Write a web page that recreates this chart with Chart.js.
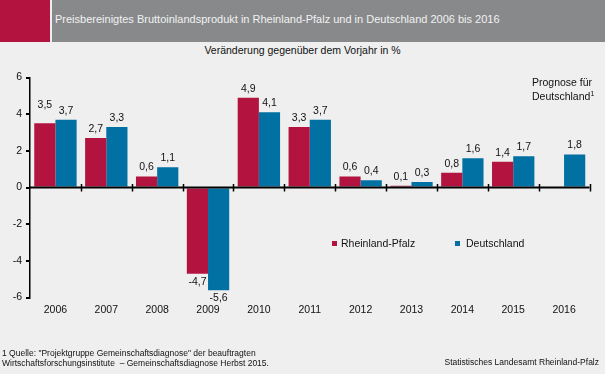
<!DOCTYPE html>
<html>
<head>
<meta charset="utf-8">
<script src="https://cdn.jsdelivr.net/npm/chart.js@4"></script>
<style>
  html, body { margin: 0; padding: 0; background: #EEEFEE; }
  #wrap { position: relative; width: 605px; height: 374px; overflow: hidden; background: #EEEFEE;
          font-family: "Liberation Sans", Arial, sans-serif; color: #111; }
  #c { position: absolute; left: 0; top: 0; }
  .abs { position: absolute; white-space: nowrap; }
  #hdrRed { left: 0; top: 0; width: 50px; height: 42px; background: #B3143F; }
  #hdrGrey { left: 52px; top: 0; width: 553px; height: 42px; background: #88898B; }
  #title { left: 55px; top: 12px; font-size: 11px; color: #F2F2F2; line-height: 14px; }
  #sub { left: 0; width: 605px; top: 44px; text-align: center; font-size: 10.5px; line-height: 13px; }
  #prog { left: 532px; top: 76px; font-size: 10.5px; line-height: 12px; }
  #prog sup { font-size: 7px; vertical-align: 4px; }
  .leg { font-size: 10.5px; line-height: 12px; }
  .sq { position: absolute; width: 5px; height: 5px; }
  #foot { left: 2px; top: 348px; font-size: 8.5px; line-height: 10px; }
  #src { right: 6px; top: 357px; font-size: 8.5px; line-height: 10px; }
</style>
</head>
<body>
<div id="wrap">
  <div class="abs" id="hdrRed"></div>
  <div class="abs" id="hdrGrey"></div>
  <div class="abs" id="title">Preisbereinigtes Bruttoinlandsprodukt in Rheinland-Pfalz und in Deutschland 2006 bis 2016</div>
  <div class="abs" id="sub">Veränderung gegenüber dem Vorjahr in %</div>
  <canvas id="c" width="605" height="374"></canvas>
  <div class="abs" id="prog">Prognose für<br>Deutschland<sup>1</sup></div>
  <div class="sq" style="left:332px;top:241px;background:#B3143F"></div>
  <div class="abs leg" style="left:341px;top:237px">Rheinland-Pfalz</div>
  <div class="sq" style="left:455px;top:241px;background:#0071A2"></div>
  <div class="abs leg" style="left:466px;top:237px">Deutschland</div>
  <div class="abs" id="foot">1 Quelle: "Projektgruppe Gemeinschaftsdiagnose" der beauftragten<br>Wirtschaftsforschungsinstitute &nbsp;– Gemeinschaftsdiagnose Herbst 2015.</div>
  <div class="abs" id="src">Statistisches Landesamt Rheinland-Pfalz</div>
</div>
<script>
const categories = ["2006","2007","2008","2009","2010","2011","2012","2013","2014","2015","2016"];
const rheinlandPfalz = [3.5, 2.7, 0.6, -4.7, 4.9, 3.3, 0.6, 0.1, 0.8, 1.4, null];
const deutschland = [3.7, 3.3, 1.1, -5.6, 4.1, 3.7, 0.4, 0.3, 1.6, 1.7, 1.8];
const yTicks = [-6, -4, -2, 0, 2, 4, 6];

const FONT = '"Liberation Sans", Arial, sans-serif';

const zeroLinePlugin = {
  id: 'zeroLine',
  afterDatasetsDraw(chart) {
    const ctx = chart.ctx, ca = chart.chartArea;
    const y0 = chart.scales.y.getPixelForValue(0);
    const n = categories.length;
    ctx.save();
    ctx.strokeStyle = '#000';
    ctx.lineWidth = 2;
    ctx.beginPath();
    ctx.moveTo(ca.left, y0);
    ctx.lineTo(ca.right, y0);
    ctx.stroke();
    ctx.lineWidth = 1.5;
    for (let i = 1; i <= n; i++) {
      const x = Math.round(ca.left + i * (ca.right - ca.left) / n) + 0.5;
      ctx.beginPath();
      ctx.moveTo(x, y0 - 3.5);
      ctx.lineTo(x, y0 + 4);
      ctx.stroke();
    }
    ctx.restore();
  }
};

const labelPlugin = {
  id: 'barLabels',
  afterDraw(chart, args, opts) {
    const ctx = chart.ctx;
    ctx.save();
    ctx.font = '10.5px ' + FONT;
    ctx.fillStyle = '#111';
    ctx.textAlign = 'center';
    ctx.textBaseline = 'middle';
    chart.data.datasets.forEach((ds, di) => {
      const meta = chart.getDatasetMeta(di);
      meta.data.forEach((bar, i) => {
        const v = ds.data[i];
        if (v === null || v === undefined) return;
        const txt = v.toFixed(1).replace('.', ',');
        const lift = (opts.lift && opts.lift[di + ':' + i]) || 0;
        const y = v >= 0 ? bar.y - 9 - lift : bar.y + 8;
        ctx.fillText(txt, bar.x, y);
      });
    });
    ctx.restore();
  }
};

new Chart(document.getElementById('c'), {
  type: 'bar',
  data: {
    labels: categories,
    datasets: [
      { label: 'Rheinland-Pfalz', data: rheinlandPfalz, backgroundColor: '#B3143F',
        categoryPercentage: 0.833, barPercentage: 1.0 },
      { label: 'Deutschland', data: deutschland, backgroundColor: '#0071A2',
        categoryPercentage: 0.833, barPercentage: 1.0 }
    ]
  },
  options: {
    responsive: false,
    devicePixelRatio: 1,
    animation: false,
    layout: { padding: { left: 0, right: 15.5, top: 77.5, bottom: 0 } },
    plugins: {
      legend: { display: false },
      tooltip: { enabled: false },
      title: { display: false },
      barLabels: { lift: { '0:0': 9 } }
    },
    scales: {
      x: {
        grid: { display: false, drawTicks: false },
        border: { display: false },
        ticks: { color: '#111', font: { family: FONT, size: 10.5 }, padding: 6, maxRotation: 0 },
        afterFit(scale) { scale.height = 76.5; }
      },
      y: {
        min: -6, max: 6,
        afterBuildTicks(scale) { scale.ticks = yTicks.map(v => ({ value: v })); },
        grid: { drawOnChartArea: false, drawTicks: true, tickLength: 4, color: '#000', lineWidth: 2 },
        border: { display: true, color: '#000', width: 1.5 },
        ticks: { color: '#111', font: { family: FONT, size: 10.5 }, padding: 4,
                 callback: v => String(v) },
        afterFit(scale) { scale.width = 30; }
      }
    }
  },
  plugins: [zeroLinePlugin, labelPlugin]
});
</script>
</body>
</html>
